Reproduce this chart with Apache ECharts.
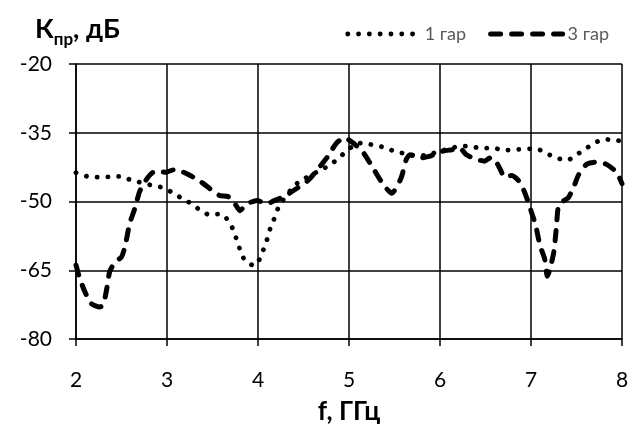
<!DOCTYPE html>
<html>
<head>
<meta charset="utf-8">
<script src="https://cdn.jsdelivr.net/npm/echarts@6/dist/echarts.min.js"></script>
<style>
html,body{margin:0;padding:0;background:#fff;}
#c{width:638px;height:430px;}
</style>
</head>
<body>
<div id="c"></div>
<script>
// Tick labels / axis settings
var xTicks = [2, 3, 4, 5, 6, 7, 8];
var yTicks = [-80, -65, -50, -35, -20];
var seriesNames = ['1 гар', '3 гар'];

// 1 гар (dotted)
var f1 = [2.0, 2.12, 2.25, 2.37, 2.49, 2.6, 2.72, 2.84, 2.96, 3.07, 3.17, 3.27, 3.37, 3.47, 3.59, 3.68, 3.73, 3.77, 3.81, 3.86, 3.96, 4.03, 4.07, 4.11, 4.14, 4.19, 4.23, 4.36, 4.46, 4.55, 4.68, 4.76, 4.86, 4.95, 5.07, 5.15, 5.27, 5.39, 5.51, 5.63, 5.75, 5.87, 6.0, 6.1, 6.23, 6.34, 6.46, 6.58, 6.70, 6.82, 6.94, 7.06, 7.17, 7.28, 7.40, 7.50, 7.60, 7.71, 7.82, 7.93, 8.0];
var k1 = [-43.7, -44.5, -44.7, -44.6, -44.5, -45.3, -45.9, -46.5, -47.0, -48.2, -49.4, -50.5, -52.0, -52.9, -52.7, -54.3, -56.3, -58.6, -60.9, -63.0, -64.0, -62.1, -59.9, -57.7, -55.5, -53.2, -51.0, -47.5, -45.5, -44.6, -43.2, -42.4, -41.0, -39.4, -37.5, -37.2, -37.7, -38.2, -39.1, -39.6, -40.0, -39.8, -39.0, -38.5, -37.9, -38.0, -38.4, -38.3, -38.8, -38.7, -38.5, -38.5, -39.5, -40.5, -41.0, -39.8, -38.5, -37.1, -36.4, -36.8, -36.6];

// 3 гар (dashed)
var f3 = [2.0, 2.04, 2.1, 2.17, 2.26, 2.3, 2.34, 2.37, 2.43, 2.5, 2.54, 2.59, 2.65, 2.70, 2.78, 2.85, 2.92, 2.99, 3.07, 3.18, 3.29, 3.40, 3.51, 3.58, 3.67, 3.75, 3.80, 3.88, 3.99, 4.1, 4.18, 4.29, 4.40, 4.55, 4.66, 4.77, 4.86, 4.95, 5.05, 5.16, 5.27, 5.38, 5.47, 5.57, 5.63, 5.67, 5.78, 5.89, 6.01, 6.13, 6.22, 6.29, 6.40, 6.49, 6.55, 6.60, 6.66, 6.71, 6.79, 6.86, 6.92, 6.96, 7.0, 7.05, 7.10, 7.15, 7.18, 7.21, 7.25, 7.28, 7.30, 7.36, 7.41, 7.47, 7.52, 7.61, 7.72, 7.83, 7.94, 8.0];
var k3 = [-63.9, -66.7, -69.8, -72.3, -73.0, -72.6, -68.8, -65.3, -63.2, -62.1, -59.7, -54.8, -51.3, -47.8, -45.0, -43.6, -43.5, -43.6, -43.1, -43.6, -44.7, -46.1, -47.8, -48.7, -48.9, -50.6, -52.0, -50.5, -49.8, -50.5, -49.8, -48.9, -47.5, -45.4, -42.9, -40.1, -37.3, -36.1, -37.3, -39.4, -42.9, -46.4, -48.2, -45.0, -40.8, -39.8, -40.5, -40.1, -39.1, -38.7, -38.4, -39.8, -40.8, -41.2, -40.5, -40.8, -42.9, -44.7, -44.3, -45.4, -47.5, -49.6, -52.0, -55.1, -59.7, -62.5, -66.3, -64.6, -61.1, -55.5, -51.3, -49.8, -49.2, -46.8, -44.3, -41.9, -41.4, -41.9, -43.6, -46.1];

function pairs(xs, ys) { return xs.map(function (x, i) { return [x, ys[i]]; }); }

var FONT = 'Lato';
var dotStyle = { color: '#000', width: 4.8, type: [0.1, 10.7], cap: 'round' };
var dashStyle = { color: '#000', width: 5, type: [10, 11], cap: 'round' };

var chart = echarts.init(document.getElementById('c'));
chart.setOption({
  animation: false,
  backgroundColor: '#fff',
  textStyle: { fontFamily: FONT },
  title: {
    left: 30, top: 8,
    text: '{k|К}{s|пр}{k|, дБ}',
    textStyle: {
      rich: {
        k: { fontFamily: FONT, fontWeight: 'bold', fontSize: 27, color: '#000', lineHeight: 30, verticalAlign: 'bottom' },
        s: { fontFamily: FONT, fontWeight: 'bold', fontSize: 17, color: '#000', lineHeight: 16, verticalAlign: 'bottom', padding: [0, 0, -5, 0] }
      }
    }
  },
  legend: {
    right: 24, top: 20,
    itemWidth: 72, itemHeight: 14, itemGap: 22,
    itemStyle: { opacity: 0 },
    textStyle: { fontFamily: FONT, fontSize: 18, color: '#595959' },
    data: [
      { name: seriesNames[0], lineStyle: dotStyle },
      { name: seriesNames[1], lineStyle: dashStyle }
    ]
  },
  grid: { left: 76, right: 16, top: 64, bottom: 80 },
  xAxis: {
    type: 'value', min: xTicks[0], max: xTicks[xTicks.length - 1], interval: 1,
    name: 'f, ГГц', nameLocation: 'middle', nameGap: 60,
    nameTextStyle: { fontFamily: FONT, fontWeight: 'bold', fontSize: 26, color: '#000' },
    axisLine: { lineStyle: { color: '#000', width: 1.5 } },
    axisTick: { show: true, length: 7, lineStyle: { color: '#000', width: 1.5 } },
    axisLabel: { fontFamily: FONT, fontSize: 21, color: '#000', margin: 31 },
    splitLine: { show: true, lineStyle: { color: '#000', width: 1.5 } }
  },
  yAxis: {
    type: 'value', min: yTicks[0], max: yTicks[yTicks.length - 1], interval: 15,
    axisLine: { show: true, lineStyle: { color: '#000', width: 1.5 } },
    axisTick: { show: true, length: 7, lineStyle: { color: '#000', width: 1.5 } },
    axisLabel: { fontFamily: FONT, fontSize: 21, color: '#000', margin: 24 },
    splitLine: { show: true, lineStyle: { color: '#000', width: 1.5 } }
  },
  series: [
    {
      name: seriesNames[0], type: 'line', smooth: 0.2, showSymbol: false, symbol: 'none',
      data: pairs(f1, k1),
      itemStyle: { color: '#000' },
      lineStyle: dotStyle
    },
    {
      name: seriesNames[1], type: 'line', smooth: 0.2, showSymbol: false, symbol: 'none',
      data: pairs(f3, k3),
      itemStyle: { color: '#000' },
      lineStyle: dashStyle
    }
  ]
});
</script>
</body>
</html>
